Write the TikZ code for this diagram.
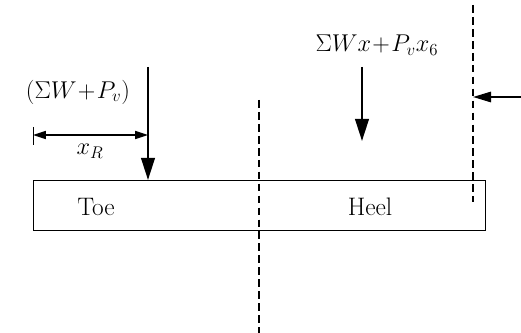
\documentclass[tikz,border=0pt]{standalone}
\usepackage{amsmath,amssymb}
\usepackage{tikz}
\usetikzlibrary{arrows.meta,positioning}

\begin{document}
\begin{tikzpicture}[x=0.025cm,y=-0.025cm,
    load/.style={-{Triangle[length=5.5mm,width=3.4mm]},line width=1.5pt},
    dim/.style={{Triangle[length=3.2mm,width=2mm]}-{Triangle[length=3.2mm,width=2mm]},line width=1pt},
    cut/.style={dash pattern=on 5.5pt off 3pt,line width=1.1pt},
    lbl/.style={font=\fontsize{18}{21}\selectfont}]
    \useasboundingbox (0,0) rectangle (521,333);

    % base slab
    \draw[line width=0.6pt] (33,180) rectangle (485,230);
    \node[lbl] (toe) at (96,207) {Toe};
    \node[lbl] (heel) at (370,207) {Heel};

    % section lines
    \coordinate (cutA) at (259,100);
    \coordinate (cutAend) at (259,333);
    \draw[cut] (cutA) -- (cutAend);
    \coordinate (cutB) at (473,5);
    \coordinate (cutBend) at (473,202);
    \draw[cut] (cutB) -- (cutBend);

    % resultant on toe
    \coordinate (resTop) at (148,67);
    \coordinate (resTip) at (148,180);
    \draw[load] (resTop) -- (resTip);
    \node[lbl] (reslbl) at (78,92) {$(\Sigma W\!+\!P_v)$};

    % lever arm x_R
    \coordinate (xrL) at (33,135);
    \coordinate (xrR) at (148,135);
    \draw[line width=0.6pt] (33,127) -- (33,145);
    \draw[dim] (xrL) -- (xrR);
    \node[lbl] (xrlbl) at (90,151) {$x_R$};

    % moment load on heel
    \coordinate (momTop) at (362,67);
    \coordinate (momTip) at (362,141);
    \draw[load] (momTop) -- (momTip);
    \node[lbl] (momlbl) at (377,45) {$\Sigma W x\!+\!P_v x_6$};

    % horizontal thrust
    \coordinate (thrStart) at (521,97);
    \coordinate (thrTip) at (473,97);
    \draw[-{Triangle[length=4.5mm,width=2.6mm]},line width=1.2pt] (thrStart) -- (thrTip);
\end{tikzpicture}
\end{document}
